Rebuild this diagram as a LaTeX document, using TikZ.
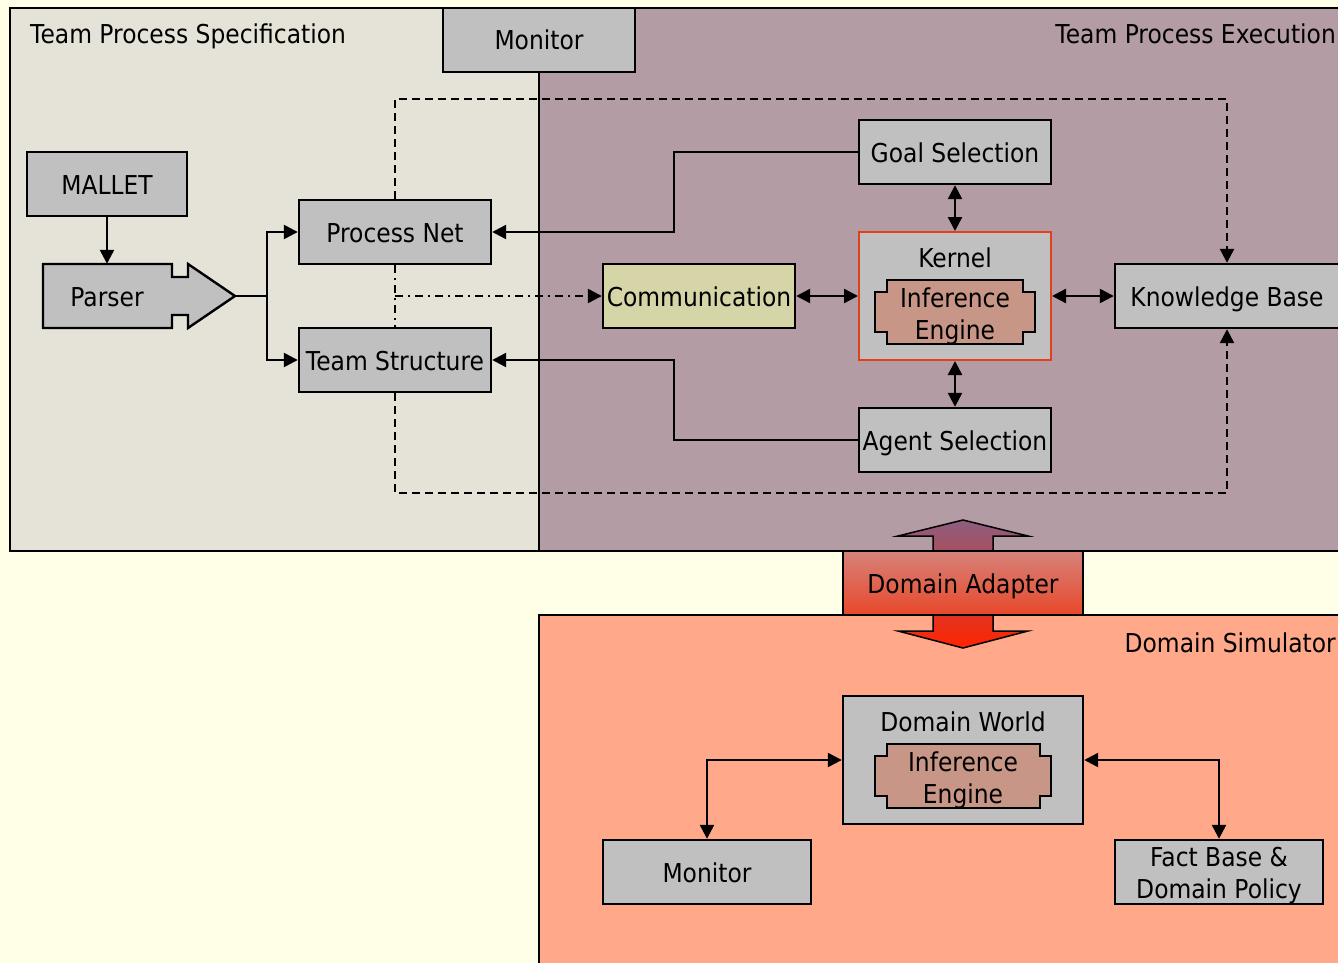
\documentclass[tikz,border=0pt]{standalone}
\usepackage{fontspec}
\setmainfont{DejaVu Sans}[FakeStretch=0.9]
\usetikzlibrary{arrows.meta}

\definecolor{bgyellow}{RGB}{255,255,232}
\definecolor{specfill}{RGB}{229,227,216}
\definecolor{execfill}{RGB}{179,156,163}
\definecolor{simfill}{RGB}{255,168,138}
\definecolor{boxgray}{RGB}{192,192,192}
\definecolor{commfill}{RGB}{214,213,168}
\definecolor{iefill}{RGB}{200,150,134}
\definecolor{kernelred}{RGB}{224,64,26}
\definecolor{adtop}{RGB}{214,130,122}
\definecolor{adbot}{RGB}{232,72,42}
\definecolor{artop}{RGB}{140,94,128}
\definecolor{arbot}{RGB}{255,36,0}

\tikzset{
  every node/.style={font=\fontsize{26}{32}\selectfont, inner sep=0pt},
  panel/.style={draw=black, line width=2.4pt},
  box/.style={draw=black, line width=2.4pt, fill=boxgray, minimum height=64pt},
  oneline/.style={text height=20pt, text depth=0pt},
  link/.style={line width=2.4pt},
  dashlink/.style={line width=2.4pt, dash pattern=on 8pt off 5pt},
  dotlink/.style={line width=2.4pt, dash pattern=on 8pt off 5pt on 2pt off 5pt},
  engine/.style={draw=black, line width=2.4pt, fill=iefill},
  >={Triangle[length=14pt,width=14pt]}
}

\begin{document}
\begin{tikzpicture}[x=1pt,y=-1pt]
\useasboundingbox (0,0) rectangle (1338,963);
\clip (0,0) rectangle (1338,963);
\fill[bgyellow] (0,0) rectangle (1338,963);

% panels
\draw[panel, fill=specfill] (10,8) rectangle (539,551);
\draw[panel, fill=execfill] (539,8) rectangle (1350,551);
\draw[panel, fill=simfill] (539,615) rectangle (1350,980);

\node[anchor=west, oneline] (lblspec) at (30,34) {Team Process Specification};
\node[anchor=east, oneline] (lblexec) at (1336,34) {Team Process Execution};
\node[anchor=east, oneline] (lblsim) at (1336,642) {Domain Simulator};

% domain adapter double arrow
\path[draw=black, line width=1.5pt, top color=artop, bottom color=arbot]
  (963,520) -- (1028,536) -- (993,536) -- (993,631) -- (1028,631) -- (963,648)
  -- (898,631) -- (933,631) -- (933,536) -- (898,536) -- cycle;
\node[draw=black, line width=2.4pt, minimum width=240pt, minimum height=64pt,
      top color=adtop, bottom color=adbot, oneline] (adapter) at (963,583) {Domain Adapter};

% specification side
\node[box, minimum width=192pt, oneline] (monitor) at (539,40) {Monitor};
\node[box, minimum width=160pt, oneline] (mallet) at (107,184) {MALLET};
\path[draw=black, line width=2.4pt, fill=boxgray]
  (43,264) -- (172,264) -- (172,277) -- (188,277) -- (188,264) -- (235,296)
  -- (188,328) -- (188,315) -- (172,315) -- (172,328) -- (43,328) -- cycle;
\node[minimum width=129pt, minimum height=64pt, oneline] (parser) at (107,296) {Parser};
\coordinate (ptip) at (235,296);
\coordinate (split) at (267,296);
\node[box, minimum width=192pt, oneline] (pnet) at (395,232) {Process Net};
\node[box, minimum width=192pt, oneline] (tstruct) at (395,360) {Team Structure};

% execution side
\node[box, fill=commfill, minimum width=192pt, oneline] (comm) at (699,296) {Communication};
\node[box, draw=kernelred, line width=2pt, minimum width=192pt, minimum height=128pt] (kernel) at (955,296) {};
\node[oneline] (kerneltxt) at (955,257) {Kernel};
\path[engine] (887,280) -- (1023,280) -- (1023,292) -- (1035,292) -- (1035,332)
  -- (1023,332) -- (1023,344) -- (887,344) -- (887,332) -- (875,332) -- (875,292)
  -- (887,292) -- cycle;
\node[align=center] (kernelie) at (955,316) {Inference\\Engine};
\node[box, minimum width=192pt, oneline] (goal) at (955,152) {Goal Selection};
\node[box, minimum width=192pt, oneline] (agent) at (955,440) {Agent Selection};
\node[box, minimum width=224pt, oneline] (kb) at (1227,296) {Knowledge Base};

% simulator side
\node[box, minimum width=240pt, minimum height=128pt] (dworld) at (963,760) {};
\node[oneline] (dworldtxt) at (963,721) {Domain World};
\path[engine] (887,744) -- (1040,744) -- (1040,756) -- (1051,756) -- (1051,796)
  -- (1040,796) -- (1040,808) -- (887,808) -- (887,796) -- (875,796) -- (875,756)
  -- (887,756) -- cycle;
\node[align=center] (dworldie) at (963,780) {Inference\\Engine};
\node[box, minimum width=208pt, oneline] (monitor2) at (707,872) {Monitor};
\node[box, minimum width=208pt, align=center] (fact) at (1219,872) {};
\node[align=center] (facttxt) at (1219,876) {Fact Base \&\\Domain Policy};

% connectors
\draw[link, ->] (mallet.south) -- (parser.north);
\draw[link] (ptip) -- (split);
\draw[link, ->] (split) |- (pnet.west);
\draw[link, ->] (split) |- (tstruct.west);
\draw[link, ->] (goal.west) -- ++(-184,0) |- (pnet.east);
\draw[link, ->] (agent.west) -- ++(-184,0) |- (tstruct.east);
\draw[link, <->] (goal.south) -- (kernel.north);
\draw[link, <->] (kernel.south) -- (agent.north);
\draw[link, <->] (comm.east) -- (kernel.west);
\draw[link, <->] (kernel.east) -- (kb.west);
\draw[dashlink, ->] (pnet.north) -- ++(0,-100) -| (kb.north);
\draw[dashlink, ->] (tstruct.south) -- ++(0,100) -| (kb.south);
\draw[dotlink] (pnet.south) -- (tstruct.north);
\coordinate (ddot) at (pnet.south |- comm.west);
\draw[dotlink, ->] (ddot) -- (comm.west);
\draw[link, <->] (dworld.west) -| (monitor2.north);
\draw[link, <->] (dworld.east) -| (fact.north);
\end{tikzpicture}
\end{document}
